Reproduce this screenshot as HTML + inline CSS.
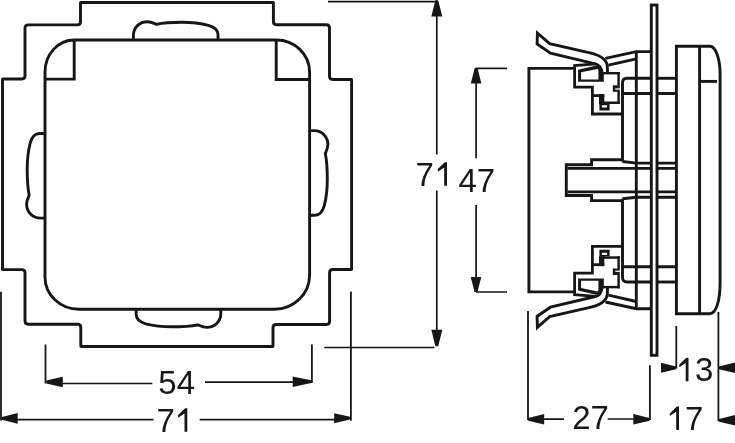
<!DOCTYPE html>
<html><head><meta charset="utf-8">
<style>
html,body{margin:0;padding:0;background:#fff;}
body{width:735px;height:443px;overflow:hidden;}
svg{display:block;}
text{font-family:"Liberation Sans",sans-serif;font-size:33px;fill:#161616;}
</style></head>
<body>
<svg width="735" height="443" viewBox="0 0 735 443">
<defs><path id="bump" d="M133.4,40 L133.4,35.5 C133.4,27.5 139.5,21.7 147.4,21.7 C151,21.7 154,23.3 156.3,24.3 C163,22.9 172,22.3 182,22.3 C195,22.3 203,23.9 208.5,25.3 C214.5,27 218,30 218,34.5 L218,40"/></defs>
<g fill="none" stroke="#161616" stroke-width="2.9" stroke-linejoin="miter">
<path d="M176.95,2.50 L273.10,2.50 Q273.40,2.50 273.40,2.80 L273.40,21.50 Q273.40,24.70 276.60,24.70 L326.30,24.70 Q329.50,24.70 329.50,27.90 L329.50,76.30 Q329.50,79.50 332.70,79.50 L351.30,79.50 Q351.60,79.50 351.60,79.80 L351.60,269.20 Q351.60,269.50 351.30,269.50 L332.80,269.50 Q329.60,269.50 329.60,272.70 L329.60,321.30 Q329.60,324.50 326.40,324.50 L276.20,324.50 Q273.00,324.50 273.00,327.70 L273.00,346.20 Q273.00,346.50 272.70,346.50 L81.10,346.50 Q80.80,346.50 80.80,346.20 L80.80,327.40 Q80.80,324.20 77.60,324.20 L28.20,324.20 Q25.00,324.20 25.00,321.00 L25.00,272.80 Q25.00,269.60 21.80,269.60 L2.80,269.60 Q2.50,269.60 2.50,269.30 L2.50,79.30 Q2.50,79.00 2.80,79.00 L21.80,79.00 Q25.00,79.00 25.00,75.80 L25.00,28.10 Q25.00,24.90 28.20,24.90 L77.30,24.90 Q80.50,24.90 80.50,21.70 L80.50,2.80 Q80.50,2.50 80.80,2.50 Z"/>
<path d="M74.2,40 L276.2,40 A33.4,32 0 0 1 309.6,72 L309.6,275.3 A35,34 0 0 1 274.5,309.2 L79,309.2 A34,32 0 0 1 45,277 L45,72 A29.2,32 0 0 1 74.2,40 Z"/>
<path d="M74.2,40 L74.2,79.1 L45,79.1"/>
<path d="M276.2,40 L276.2,79.5 L309.6,79.5"/>
<use href="#bump"/>
<use href="#bump" transform="translate(2.4 0) rotate(-90 177 174.5)"/>
<use href="#bump" transform="translate(-1.9 -0.3) rotate(90 177 174.5)"/>
<use href="#bump" transform="translate(0.2 0.1) rotate(180 177 174.5)"/>
</g>
<g id="rtop" fill="none" stroke="#161616" stroke-width="2.9" stroke-linejoin="miter">
<path d="M528.9,180.2 L528.9,68.4 L574.6,68.4"/>
<path d="M602,72.6 C601.3,67.5 598.5,64.5 595.3,63.8 L550.5,53.1 L537.1,44.0 L537.4,33.0 L549.6,43.6 L590,52.9 C598,54.8 606.5,58.5 607.3,66 L607.5,73"/>
<path d="M605.4,58.3 L636.3,51.6 L651.3,51.6"/>
<path d="M608.4,65.2 L636.3,58.8"/>
<path d="M596,63.9 L574.6,65.6 L574.6,87.2 L592.4,87.2 L592.4,114.0 L622.5,114.0" stroke-width="2.8"/>
<path fill="#161616" stroke="none" fill-rule="evenodd" d="M578.1,69.7 L595.3,65.8 L599.5,66.3 L602.3,70 L603.8,72.5 L603.8,81.8 L578.1,81.8 Z M581.1,72.2 L597.5,68.9 L598.4,70 L598.4,79.5 L581.1,79.5 Z"/>
<g fill="#161616" stroke="none"><rect x="600" y="72" width="19.8" height="2.4"/><rect x="617.4" y="72" width="2.4" height="32"/><rect x="603.8" y="101.5" width="16" height="2.5"/><rect x="612.8" y="85.3" width="5" height="6.5"/><rect x="591.3" y="94.2" width="13" height="2.8"/><rect x="599" y="94.2" width="5.3" height="10"/><path fill-rule="evenodd" d="M599.4,104 L609.6,104 L609.6,110.5 L599.4,110.5 Z M601.9,105.2 L607.1,105.2 L607.1,107.6 L601.9,107.6 Z"/></g>
<rect x="615.3" y="88.4" width="4.8" height="1.3" fill="#fff" stroke="none"/>
<path d="M622.5,161.5 L622.5,83 Q622.5,78.3 627,78.3 L651.3,78.3"/>
<path d="M657,78.3 L676.4,78.3"/>
<path d="M622.5,93.5 L651.3,93.5 M657,93.5 L676.4,93.5"/>
<path d="M636.3,51.6 L636.3,180.2"/>
<path d="M622.5,159.7 L591.6,159.7 L591.6,164.8 L566.3,164.8 L566.3,180.2"/>
<path d="M567.5,168.4 L651.3,168.4 M657,168.4 L676.4,168.4"/>
<path d="M622.5,161.5 L636.3,163.1 L651.3,163.1 M657,163.1 L676.4,163.1"/>
</g>
<use href="#rtop" transform="matrix(1,0,0,-1,0,360.3)"/>
<g fill="none" stroke="#161616" stroke-width="2.9">
<rect x="651.3" y="5" width="5.7" height="350.3"/>
<path d="M676.4,46.3 L710,46.3 C716,46.3 720.1,60 720.1,74 L720.1,282 C720.1,300 716.5,313.8 709.5,313.8 L676.4,313.8 Z"/>
<path d="M699.6,46.3 L699.6,313.8"/>
<path d="M699.6,81.4 L717,81.4"/>
</g>
<g fill="none" stroke="#161616" stroke-width="1.7">
<path d="M328,1.6 L436.8,1.6"/>
<path d="M324.3,347.5 L434.5,347.5"/>
<path d="M436.8,10 L436.8,154.4 M436.8,190.5 L436.8,337"/>
<path d="M476,68.4 L507,68.4 M476,292 L507,292"/>
<path d="M476.1,78 L476.1,158.2 M476.1,205 L476.1,282"/>
<path d="M45.5,344.5 L45.5,383.5 M311.9,344.4 L311.9,383" stroke-width="1.8"/>
<path d="M55,383.5 L152.3,383.5 M205,382.1 L302,382.1"/>
<path d="M1.0,291.7 L1.0,420.5 M350.9,291.5 L350.9,420.8" stroke-width="1.8"/>
<path d="M12,419.6 L153.5,419.6 M199.7,419.6 L340,419.6"/>
<path d="M528,311 L528,420 M649.9,365.3 L649.9,420" stroke-width="1.8"/>
<path d="M537,419.1 L563.9,419.1 M607.7,419 L640,419"/>
<path d="M676.3,326 L676.3,368.5 M718.4,312 L718.4,421.2" stroke-width="1.8"/>
</g>
<g fill="#161616" stroke="none">
<path d="M438.20,0.30 L442.30,16.50 L431.30,16.50 L435.40,0.30 Z"/>
<path d="M435.40,346.20 L431.30,329.70 L442.30,329.70 L438.20,346.20 Z"/>
<path d="M477.50,68.00 L481.40,83.50 L470.80,83.50 L474.70,68.00 Z"/>
<path d="M474.60,292.00 L470.70,277.00 L481.30,277.00 L477.40,292.00 Z"/>
<path d="M46.30,380.60 L62.80,376.70 L62.80,387.30 L46.30,383.40 Z"/>
<path d="M311.20,383.10 L292.70,387.00 L292.70,376.40 L311.20,380.30 Z"/>
<path d="M1.90,416.90 L17.70,412.90 L17.70,423.70 L1.90,419.70 Z"/>
<path d="M350.00,419.60 L334.20,423.20 L334.20,413.20 L350.00,416.80 Z"/>
<path d="M528.20,417.90 L544.20,414.00 L544.20,424.60 L528.20,420.70 Z"/>
<path d="M649.60,420.70 L633.30,424.60 L633.30,414.00 L649.60,417.90 Z"/>
<path d="M676.00,369.20 L661.00,372.80 L661.00,362.80 L676.00,366.40 Z"/>
<path d="M719.00,366.40 L735.50,362.50 L735.50,373.10 L719.00,369.20 Z"/>
<path d="M719.00,418.90 L735.50,415.00 L735.50,425.60 L719.00,421.70 Z"/>
</g>
<g style="will-change:transform" opacity="0.99"><text x="158.3" y="394.2">54</text>
<text x="156.5" y="432.0">7</text>
<text x="415.4" y="186.0">7</text>
<text x="458.5" y="192.1">47</text>
<text x="572.2" y="429.0">27</text>
<text x="694.9" y="381.3">3</text>
<text x="685.1" y="430.0">7</text></g><g fill="#161616"><path d="M187.30,408.30 L187.30,431.80 L184.50,431.80 L184.50,413.50 L178.10,417.80 L178.10,415.10 L185.10,408.30 Z"/><path d="M447.00,162.30 L447.00,185.80 L444.20,185.80 L444.20,167.50 L437.80,171.80 L437.80,169.10 L444.80,162.30 Z"/><path d="M688.50,357.70 L688.50,381.20 L685.70,381.20 L685.70,362.90 L679.30,367.20 L679.30,364.50 L686.30,357.70 Z"/><path d="M679.00,406.60 L679.00,430.10 L676.20,430.10 L676.20,411.80 L669.80,416.10 L669.80,413.40 L676.80,406.60 Z"/></g>
</svg>
</body></html>
